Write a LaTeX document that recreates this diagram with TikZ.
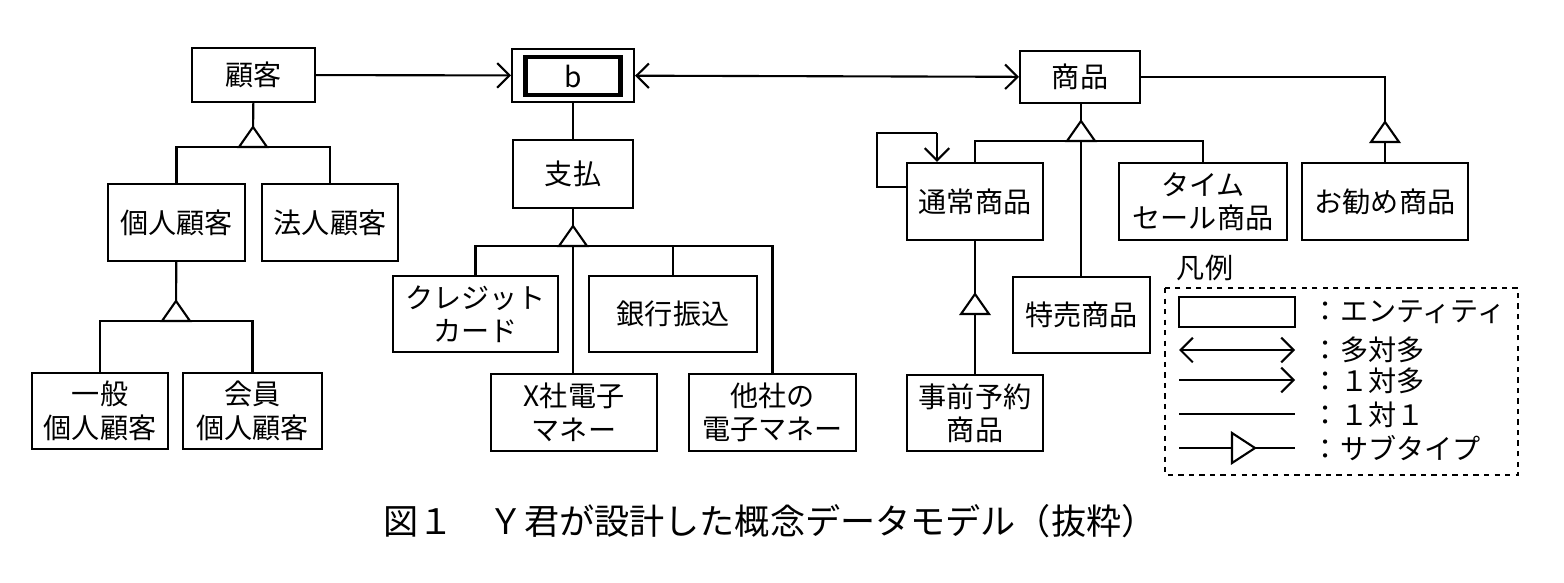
\documentclass[tikz,border=0pt]{standalone}
\usepackage{fontspec}
\setmainfont{Noto Sans CJK JP}
\usetikzlibrary{arrows.meta}

\tikzset{
	ent/.style={draw, line width=1.2pt, inner sep=0pt, align=center, font=\fontsize{16}{19}\selectfont, fill=white},
	arr/.style={-{Straight Barb[length=7pt,width=14pt,line width=1.2pt]}},
	dbl/.style={{Straight Barb[length=7pt,width=14pt,line width=1.2pt]}-{Straight Barb[length=7pt,width=14pt,line width=1.2pt]}}
}
% open subtype triangle, apex at (#1,#2)
\newcommand{\subtri}[2]{\draw[fill=white, line width=1.2pt] (#1,#2) -- (#1-14,#2+20) -- (#1+14,#2+20) -- cycle;}

\begin{document}
\begin{tikzpicture}[x=0.02cm, y=-0.02cm, line width=1.2pt]
		\useasboundingbox (0,0) rectangle (1564,582);
		
		% Entidades
		\node[ent, minimum width=2.46cm, minimum height=1.08cm] (kokyaku) at (253.5,75) {顧客};
		\node[ent, minimum width=2.44cm, minimum height=1.06cm] (b) at (573,75.5) {};
		\node[draw, line width=2.4pt, minimum width=1.9cm, minimum height=0.76cm, font=\fontsize{16}{19}\selectfont] (bin) at (573,76) {b};
		\node[ent, minimum width=2.4cm, minimum height=1.04cm] (shohin) at (1080,77) {商品};
		\node[ent, minimum width=2.74cm, minimum height=1.54cm] (kojin) at (176.5,222.5) {個人顧客};
		\node[ent, minimum width=2.72cm, minimum height=1.54cm] (hojin) at (330,222.5) {法人顧客};
		\node[ent, minimum width=2.72cm, minimum height=1.52cm] (ippan) at (100,411) {一般\\個人顧客};
		\node[ent, minimum width=2.78cm, minimum height=1.52cm] (kaiin) at (252.5,411) {会員\\個人顧客};
		\node[ent, minimum width=2.4cm, minimum height=1.36cm] (shiharai) at (573,174) {支払};
		\node[ent, minimum width=3.3cm, minimum height=1.52cm] (credit) at (475.5,314) {クレジット\\カード};
		\node[ent, minimum width=3.36cm, minimum height=1.52cm] (ginko) at (673,314) {銀行振込};
		\node[ent, minimum width=3.32cm, minimum height=1.54cm] (xsha) at (574,412.5) {X社電子\\マネー};
		\node[ent, minimum width=3.34cm, minimum height=1.54cm] (tasha) at (772.5,412.5) {他社の\\電子マネー};
		\node[ent, minimum width=2.72cm, minimum height=1.54cm] (tsujo) at (975,201.5) {通常商品};
		\node[ent, minimum width=3.36cm, minimum height=1.54cm] (time) at (1203,201.5) {タイム\\セール商品};
		\node[ent, minimum width=3.32cm, minimum height=1.54cm] (osusume) at (1385,201.5) {お勧め商品};
		\node[ent, minimum width=2.74cm, minimum height=1.52cm] (tokubai) at (1081.5,315) {特売商品};
		\node[ent, minimum width=2.72cm, minimum height=1.52cm] (jizen) at (975,413) {事前予約\\商品};
		
		% Relaciones
		\draw[arr] (kokyaku) -- (b);
		\draw[dbl] (b) -- (shohin);
		\draw (b) -- (shiharai);
		\draw (tsujo.west |- 0,187) -| (877,133) -| (937,133);
		\draw[arr] (937,133) -- (tsujo.north -| 937,0);
		
		% Subtipos
		\coordinate (kb) at (253,147);
		\draw (kokyaku) -- (kb);
		\draw (kojin.north) |- (kb) -| (hojin.north);
		\subtri{253}{127}
		
		\coordinate (pb) at (176,321);
		\draw (kojin) -- (pb);
		\draw (ippan.north) |- (pb) -| (kaiin.north);
		\subtri{176}{301}
		
		\coordinate (sb) at (573,246);
		\draw (shiharai) -- (sb);
		\draw (credit.north) |- (sb) -| (tasha.north);
		\draw (sb) -- (xsha.north -| sb);
		\draw (ginko.north) -- (ginko.north |- sb);
		\subtri{573}{226}
		
		\coordinate (gb) at (1081,141);
		\draw (shohin.south -| gb) -- (gb);
		\draw (tsujo.north) |- (gb) -| (time.north);
		\draw (gb) -- (tokubai.north -| gb);
		\subtri{1081}{121}
		
		\draw (shohin.east) -| (osusume.north);
		\subtri{1385}{122}
		
		\draw (tsujo) -- (jizen);
		\subtri{975}{294}
		
		% Leyenda
		\node[font=\fontsize{16}{19}\selectfont, anchor=west] (hanrei) at (1170,268) {凡例};
		\draw[dashed, line width=1.4pt] (1165,288) rectangle (1518,475);
		\draw (1179,297) rectangle (1295,327);
		\draw[dbl] (1179,350) -- (1295,350);
		\draw[arr] (1179,380) -- (1295,380);
		\draw (1179,414) -- (1295,414);
		\draw (1179,448) -- (1295,448);
		\draw[fill=white] (1232,433) -- (1255,448) -- (1232,463) -- cycle;
		\foreach \y/\t in {312/エンティティ, 350/多対多, 381/１対多, 415/１対１, 448/サブタイプ}{
			\node[font=\fontsize{16}{19}\selectfont, anchor=west] at (1305,\y) {：\t};}
		
		% Título
		\node[font=\fontsize{20}{24}\selectfont] (caption) at (770,521) {図１　Ｙ君が設計した概念データモデル（抜粋）};
	\end{tikzpicture}
\end{document}
